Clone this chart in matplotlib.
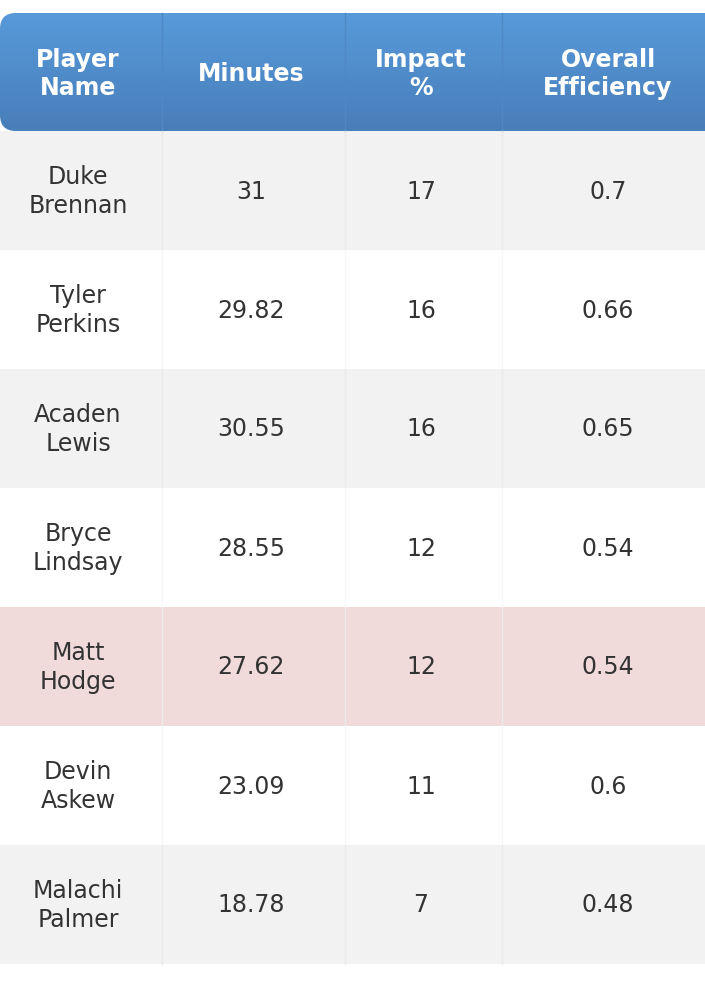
import matplotlib
matplotlib.use("Agg")
import matplotlib.pyplot as plt
import numpy as np
from matplotlib.patches import FancyBboxPatch, Rectangle

headers = ["Player\nName", "Minutes", "Impact\n%", "Overall\nEfficiency"]
names = ["Duke\nBrennan", "Tyler\nPerkins", "Acaden\nLewis", "Bryce\nLindsay",
         "Matt\nHodge", "Devin\nAskew", "Malachi\nPalmer"]
minutes = ["31", "29.82", "30.55", "28.55", "27.62", "23.09", "18.78"]
impact = ["17", "16", "16", "12", "12", "11", "7"]
efficiency = ["0.7", "0.66", "0.65", "0.54", "0.54", "0.6", "0.48"]
highlight = "Matt\nHodge"

W, H = 705, 982
fig = plt.figure(figsize=(W/100, H/100), dpi=100)
ax = fig.add_axes([0, 0, 1, 1])
ax.set_xlim(0, W); ax.set_ylim(H, 0); ax.axis("off")

col_edges = [0, 162, 345, 502, 720]
col_centers = [78, 251, 421, 608]
head_top, head_bot = 13, 131
row_h = 119

# header with gradient
hdr = FancyBboxPatch((0, head_top), 740, head_bot - head_top,
                     boxstyle="round,pad=0,rounding_size=16", linewidth=0,
                     facecolor="none")
ax.add_patch(hdr)
grad = np.linspace(0, 1, 100)[:, None]
c1 = np.array([0x58, 0x9a, 0xda]) / 255
c2 = np.array([0x48, 0x7e, 0xba]) / 255
img = c1[None, None, :] * (1 - grad[..., None]) + c2[None, None, :] * grad[..., None]
img = np.repeat(img, 2, axis=1)
im = ax.imshow(img, extent=(0, 740, head_bot, head_top), aspect="auto", zorder=1)
im.set_clip_path(hdr)
for x in col_edges[1:-1]:
    ax.plot([x, x], [head_top, head_bot], color="#4f88c4", lw=1, zorder=2)
for t, cx in zip(headers, col_centers):
    ax.text(cx, (head_top + head_bot) / 2 + 2, t, ha="center", va="center",
            color="white", fontsize=17, fontweight="bold", family="DejaVu Sans",
            linespacing=1.25, zorder=3)

rows = list(zip(names, minutes, impact, efficiency))
for i, row in enumerate(rows):
    y0 = head_bot + i * row_h
    if row[0] == highlight:
        fc = "#f0dada"
    else:
        fc = "#f2f2f2" if i % 2 == 0 else "#ffffff"
    ax.add_patch(Rectangle((0, y0), W, row_h, facecolor=fc, linewidth=0, zorder=1))
    for x in col_edges[1:-1]:
        ax.plot([x, x], [y0, y0 + row_h], color="#ebebeb" if fc != "#ffffff" else "#f7f7f7",
                lw=1, zorder=2)
    for t, cx in zip(row, col_centers):
        ax.text(cx, y0 + row_h / 2 + 1, t, ha="center", va="center",
                color="#333333", fontsize=17, family="DejaVu Sans",
                linespacing=1.3, zorder=3)

fig.savefig("out.png", dpi=100, facecolor="white")
